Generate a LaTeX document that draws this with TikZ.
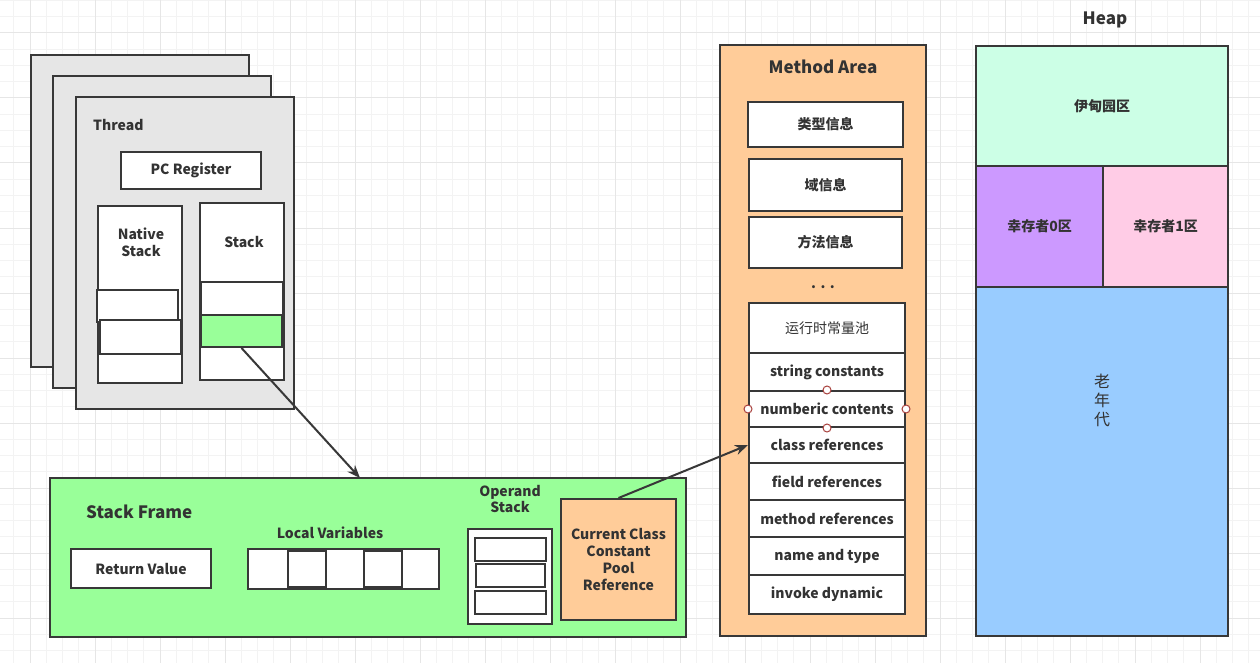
\documentclass[tikz,border=0pt]{standalone}
\usepackage{fontspec}
\setmainfont{Noto Sans CJK SC}
\usetikzlibrary{arrows.meta,fit}
\definecolor{linec}{HTML}{383838}
\definecolor{txtc}{HTML}{333333}
\definecolor{threadfill}{HTML}{E6E6E6}
\definecolor{greenf}{HTML}{99FF99}
\definecolor{orangef}{HTML}{FFCC99}
\definecolor{edenf}{HTML}{CCFFE6}
\definecolor{szero}{HTML}{CC99FF}
\definecolor{sone}{HTML}{FFCCE6}
\definecolor{oldf}{HTML}{99CCFF}
\definecolor{gminor}{HTML}{F3F3F3}
\definecolor{gmajor}{HTML}{E6E6E6}
\definecolor{handlec}{HTML}{A8403C}
\newcommand\ftn{\fontsize{14}{17}\selectfont}
\newcommand\ftb{\fontsize{17}{20}\selectfont}
\newcommand\ftv{\fontsize{16}{19}\selectfont}
% \rbox[box options]{x1}{y1}{x2}{y2}{name}{centred text}
\newcommand\rbox[7][]{\node[box,#1,fit={(#2,#3) (#4,#5)}] (#6) {};
  \node[lab] (#6-t) at (#6.center) {#7};}
\begin{document}
\begin{tikzpicture}[x=1pt,y=-1pt,
  box/.style={draw=linec,line width=2pt,fill=white,inner sep=0pt},
  tbox/.style={fill=threadfill},
  gbox/.style={fill=greenf},
  obox/.style={fill=orangef},
  lab/.style={text=txtc,font=\ftn\bfseries,inner sep=0pt,align=center},
  labr/.style={text=txtc,font=\ftn,inner sep=0pt,align=center},
  labb/.style={text=txtc,font=\ftb\bfseries,inner sep=0pt,align=center},
  arr/.style={draw=linec,line width=2pt,-{Stealth[length=13pt,width=10pt]}},
  hnd/.style={draw=handlec,fill=white,line width=1pt,circle,minimum size=8pt,inner sep=0pt}]
\useasboundingbox (0,0) rectangle (1260,663);
\fill[white] (0,0) rectangle (1260,663);
% grid
\foreach \k in {-1,...,78} \draw[gminor,line width=1pt] ({13.75+16.25*\k},0) -- ({13.75+16.25*\k},663);
\foreach \k in {0,...,41} \draw[gminor,line width=1pt] (0,{0.5+16.25*\k}) -- (1260,{0.5+16.25*\k});
\foreach \k in {-1,...,19} \draw[gmajor,line width=1pt] ({30+65*\k},0) -- ({30+65*\k},663);
\foreach \k in {-1,...,10} \draw[gmajor,line width=1pt] (0,{33+65*\k}) -- (1260,{33+65*\k});
% threads
\rbox[tbox]{31}{55}{249}{367}{th3}{}
\rbox[tbox]{53}{76}{271}{388}{th2}{}
\rbox[tbox]{76}{97}{294}{409}{th1}{}
\node[lab,anchor=west] (thl) at (93,125) {Thread};
\rbox{121}{152}{261}{189}{pc}{PC Register}
\rbox{98}{206}{182}{383}{ns}{}
\node[lab] (nsl) at (141,242) {Native\\Stack};
\rbox{97}{290}{178}{322}{nsa}{}
\rbox{100}{320}{181}{354}{nsb}{}
\rbox{200}{203}{284}{380}{st}{}
\node[lab] (stl) at (244,242) {Stack};
\rbox{201}{282}{283}{315}{sta}{}
\rbox[gbox]{201}{315}{282}{347}{stb}{}
% stack frame
\rbox[gbox]{50}{478}{686}{637}{sf}{}
\node[labb,anchor=west] (sfl) at (86,512) {Stack Frame};
\rbox{71}{549}{211}{588}{rv}{Return Value}
\node[lab] (lvl) at (330,533) {Local Variables};
\rbox{248}{549}{439}{589}{lv}{}
\rbox{288}{551}{326}{587}{lvb}{}
\rbox{364}{551}{402}{587}{lvd}{}
\node[lab] (osl) at (510,499) {Operand\\Stack};
\rbox{468}{529}{552}{624}{os}{}
\rbox{475}{538}{546}{561}{osa}{}
\rbox{476}{564}{545}{587}{osb}{}
\rbox{475}{591}{546}{614}{osc}{}
\rbox[obox]{561}{499}{676}{620}{cc}{Current Class\\Constant\\Pool\\Reference}
% method area
\rbox[obox]{720}{45}{926}{636}{ma}{}
\node[labb] (mal) at (823,67) {Method Area};
\rbox{748}{102}{903}{147}{ma1}{类型信息}
\rbox{749}{159}{902}{211}{ma2}{域信息}
\rbox{749}{217}{902}{268}{ma3}{方法信息}
\node[lab,anchor=base] (dots) at (823,288) {.\hspace{4.5pt}.\hspace{4.5pt}.};
\rbox{749}{303}{905}{353}{pa}{}
\node[labr] (pa-l) at (pa.center) {运行时常量池};
\rbox{749}{353}{905}{391}{pb}{string constants}
\rbox{749}{391}{905}{427}{pc2}{numberic contents}
\rbox{749}{427}{905}{463}{pd}{class references}
\rbox{749}{463}{905}{500}{pe}{field references}
\rbox{749}{500}{905}{537}{pf}{method references}
\rbox{749}{537}{905}{575}{pg}{name and type}
\rbox{749}{575}{905}{614}{ph}{invoke dynamic}
\node[hnd] (h1) at (pc2.north) {};
\node[hnd] (h2) at (pc2.south) {};
\node[hnd] (h3) at (pc2.west) {};
\node[hnd] (h4) at (pc2.east) {};
% heap
\node[labb] (hl) at (1105,20) {Heap};
\rbox[fill=edenf]{976}{46}{1228}{166}{eden}{伊甸园区}
\rbox[fill=szero]{976}{166}{1103}{287}{sz}{幸存者0区}
\rbox[fill=sone]{1103}{166}{1228}{287}{so}{幸存者1区}
\rbox[fill=oldf]{976}{287}{1228}{636}{old}{}
\node[labr,font=\ftv] (oldl) at (1102,400) {老\\年\\代};
% arrows
\coordinate (sfin) at (360,478);
\draw[arr] (stb.south) -- (sfin);
\draw[arr] (cc.north) -- (pd.west);
\end{tikzpicture}
\end{document}
